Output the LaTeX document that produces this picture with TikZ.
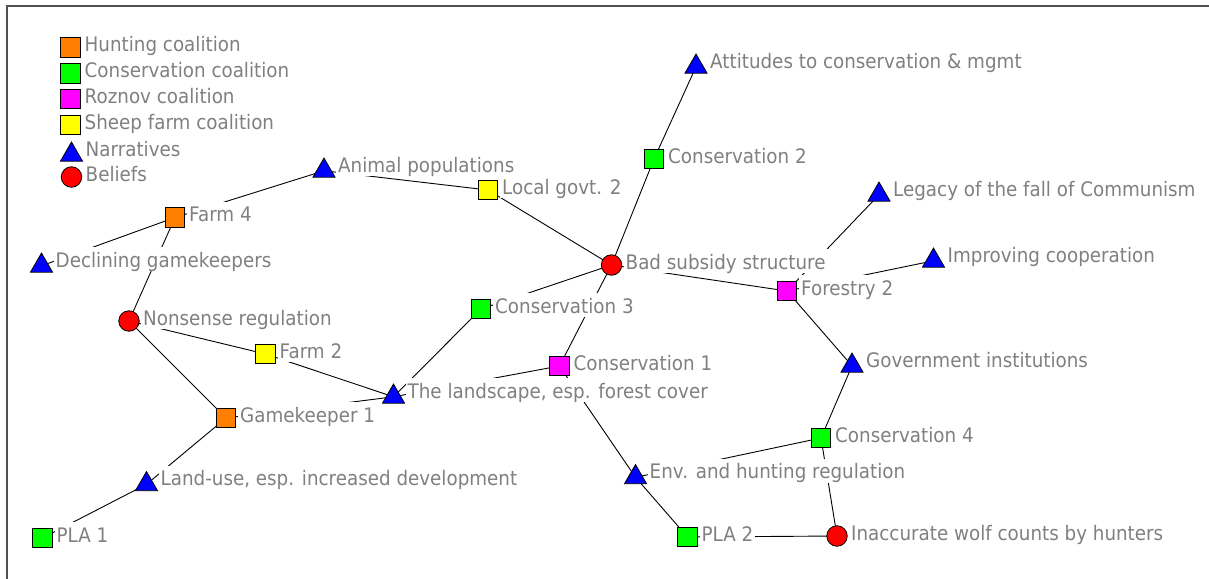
\documentclass[tikz,border=0pt]{standalone}
\usepackage{fontspec}
\setmainfont{DejaVu Sans}[FakeStretch=0.915]
\usetikzlibrary{shapes.geometric}

\definecolor{labelgray}{RGB}{128,128,128}
\definecolor{framegray}{RGB}{80,80,80}
\definecolor{hunt}{RGB}{255,128,0}
\definecolor{cons}{RGB}{0,255,0}
\definecolor{rozn}{RGB}{255,0,255}
\definecolor{sheep}{RGB}{255,255,0}
\definecolor{narr}{RGB}{0,0,255}
\definecolor{belief}{RGB}{255,0,0}

\pgfdeclarelayer{background}
\pgfsetlayers{background,main}

\tikzset{
  shapebase/.style={draw=black, line width=0.8pt, inner sep=0pt, outer sep=0pt},
  sq/.style={shapebase, rectangle, minimum size=19.5pt},
  huntsq/.style={sq, fill=hunt},
  conssq/.style={sq, fill=cons},
  roznsq/.style={sq, fill=rozn},
  sheepsq/.style={sq, fill=sheep},
  tri/.style={shapebase, regular polygon, regular polygon sides=3,
              minimum size=25.5pt, fill=narr, yshift=-2.8pt},
  belief/.style={shapebase, circle, minimum size=20.5pt, fill=belief},
  lbl/.style={anchor=base west, fill=white, text=labelgray,
              inner xsep=2pt, inner ysep=0.5pt,
              text height=19.5pt, text depth=3.5pt},
  edge/.style={draw=black, line width=0.9pt},
}

% one network vertex: name, x, y, shape style, label text
\newcommand{\netnode}[5]{%
  \node[#4] (#1) at (#2,#3) {};
  \node[lbl] (#1-t) at (#2+12,#3+4.2) {#5};
}

\begin{document}
\begin{tikzpicture}[x=1pt, y=-1pt, font=\fontsize{20}{24}\selectfont]
\useasboundingbox (0,0) rectangle (1209,578);

% frame
\draw[framegray, line width=2pt] (7,579) -- (7,6) -- (1210,6);

% legend
\netnode{lh}{70.5}{47.5}{huntsq}{Hunting coalition}
\netnode{lc}{70.5}{73.5}{conssq}{Conservation coalition}
\netnode{lr}{70.5}{99}{roznsq}{Roznov coalition}
\netnode{ls}{70.5}{125}{sheepsq}{Sheep farm coalition}
\netnode{ln}{71.5}{152}{tri}{Narratives}
\netnode{lb}{71.5}{177}{belief}{Beliefs}

% network vertices
\netnode{att}{696}{64}{tri}{Attitudes to conservation \& mgmt}
\netnode{ctwo}{654}{159}{conssq}{Conservation 2}
\netnode{anim}{324}{168}{tri}{Animal populations}
\netnode{lgov}{488}{190}{sheepsq}{Local govt. 2}
\netnode{leg}{879}{192}{tri}{Legacy of the fall of Communism}
\netnode{ffour}{175}{217.5}{huntsq}{Farm 4}
\netnode{dec}{41.5}{263}{tri}{Declining gamekeepers}
\netnode{bsub}{611.5}{265}{belief}{Bad subsidy structure}
\netnode{imp}{933.5}{258}{tri}{Improving cooperation}
\netnode{fortwo}{787}{291}{roznsq}{Forestry 2}
\netnode{nons}{129}{321}{belief}{Nonsense regulation}
\netnode{cthree}{481}{309}{conssq}{Conservation 3}
\netnode{ftwo}{265.5}{354}{sheepsq}{Farm 2}
\netnode{cone}{559.5}{366}{roznsq}{Conservation 1}
\netnode{gov}{852}{363}{tri}{Government institutions}
\netnode{land}{393.5}{394}{tri}{The landscape, esp. forest cover}
\netnode{gkone}{226}{418}{huntsq}{Gamekeeper 1}
\netnode{cfour}{821}{438}{conssq}{Conservation 4}
\netnode{env}{635.5}{474.5}{tri}{Env. and hunting regulation}
\netnode{luse}{146.5}{481.5}{tri}{Land-use, esp. increased development}
\netnode{plaone}{42.5}{538}{conssq}{PLA 1}
\netnode{platwo}{687.5}{537}{conssq}{PLA 2}
\netnode{wolf}{837}{536}{belief}{Inaccurate wolf counts by hunters}

% ties
\begin{pgfonlayer}{background}
  \draw[edge] (att.center) -- (ctwo.center);
  \draw[edge] (ctwo.center) -- (bsub.center);
  \draw[edge] (anim.center) -- (ffour.center);
  \draw[edge] (anim.center) -- (lgov.center);
  \draw[edge] (lgov.center) -- (bsub.center);
  \draw[edge] (ffour.center) -- (dec.center);
  \draw[edge] (ffour.center) -- (nons.center);
  \draw[edge] (bsub.center) -- (cthree.center);
  \draw[edge] (bsub.center) -- (cone.center);
  \draw[edge] (bsub.center) -- (fortwo.center);
  \draw[edge] (leg.center) -- (fortwo.center);
  \draw[edge] (imp.center) -- (fortwo.center);
  \draw[edge] (fortwo.center) -- (gov.center);
  \draw[edge] (gov.center) -- (cfour.center);
  \draw[edge] (nons.center) -- (ftwo.center);
  \draw[edge] (nons.center) -- (gkone.center);
  \draw[edge] (ftwo.center) -- (land.center);
  \draw[edge] (cthree.center) -- (land.center);
  \draw[edge] (cone.center) -- (land.center);
  \draw[edge] (gkone.center) -- (land.center);
  \draw[edge] (cone.center) -- (env.center);
  \draw[edge] (gkone.center) -- (luse.center);
  \draw[edge] (luse.center) -- (plaone.center);
  \draw[edge] (cfour.center) -- (env.center);
  \draw[edge] (cfour.center) -- (wolf.center);
  \draw[edge] (env.center) -- (platwo.center);
  \draw[edge] (platwo.center) -- (wolf.center);
\end{pgfonlayer}
\end{tikzpicture}
\end{document}
